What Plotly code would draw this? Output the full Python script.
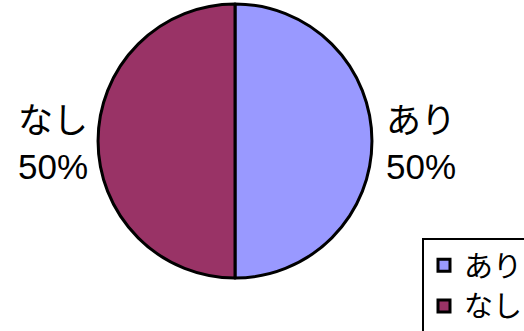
import plotly.graph_objects as go

labels = ["あり", "なし"]
values = [50, 50]
colors = ["#9999FF", "#993366"]

FONT = "Liberation Sans, Arial, Noto Sans CJK JP, sans-serif"
W, H = 524, 331

total = sum(values)
pcts = [round(v / total * 100) for v in values]

fig = go.Figure(go.Pie(
    labels=labels,
    values=values,
    marker=dict(colors=colors, line=dict(color="black", width=3)),
    textinfo="none",
    sort=False,
    direction="clockwise",
    rotation=0,
    hoverinfo="label+percent",
    domain=dict(x=[(235 - 137) / W, (235 + 137) / W], y=[1 - 278 / H, 1 - 4 / H]),
))

ann_x = [384 / W, 16 / W]
for lab, p, ax in zip(labels, pcts, ann_x):
    fig.add_annotation(
        x=ax, y=1 - 143 / H, xref="paper", yref="paper",
        xanchor="left", yanchor="middle", align="left",
        text=f"{lab}<br>{p}%", showarrow=False,
        font=dict(family=FONT, size=35, color="black"),
    )

fig.update_layout(
    width=W, height=H,
    margin=dict(l=0, r=0, t=0, b=0, autoexpand=False),
    paper_bgcolor="white",
    plot_bgcolor="white",
    showlegend=True,
    legend=dict(
        xref="container", yref="container",
        x=422 / W, y=1 - 238 / H, xanchor="left", yanchor="top",
        bordercolor="black", borderwidth=2, bgcolor="white",
        font=dict(family=FONT, size=29, color="black"),
        traceorder="normal",
        itemwidth=30,
        tracegroupgap=0,
    ),
)

fig.write_html(
    "out.html",
    config={"displayModeBar": False},
    post_script="document.body.style.margin='0';document.body.style.overflow='hidden';",
)
